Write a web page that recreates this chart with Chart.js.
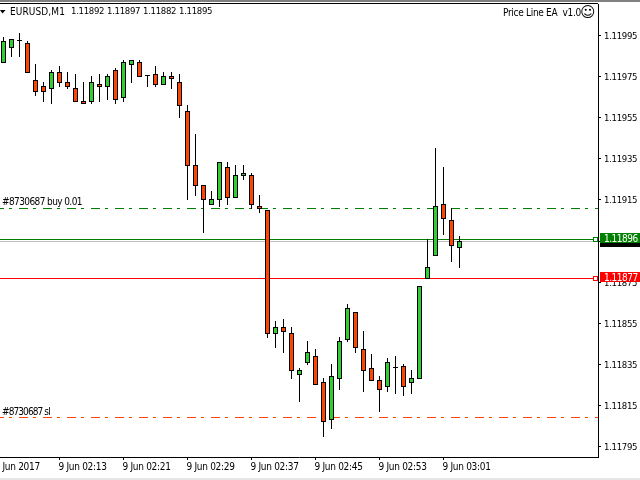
<!DOCTYPE html>
<html>
<head>
<meta charset="utf-8">
<title>EURUSD,M1</title>
<script src="https://cdn.jsdelivr.net/npm/chart.js@4/dist/chart.umd.min.js"></script>
<style>
    html, body { margin: 0; padding: 0; background: #fff; overflow: hidden; }
    canvas { display: block; }
</style>
</head>
<body>
<canvas id="chart" width="640" height="480"></canvas>
<script>
const opens = [1.11982,1.11989,1.11992,1.11991,1.11973,1.11970,1.11969,1.11977,1.11972,1.11969,
    1.11963,1.11963,1.11971,1.11970,1.11978,1.11965,1.11981,1.11982,1.11975,1.11976,
    1.11971,1.11975,1.11972,1.11958,1.11932,1.11922,1.11913,1.11915,1.11931,1.11916,
    1.11927,1.11927,1.11912,1.11910,1.11850,1.11853,1.11850,1.11830,1.11836,1.11839,
    1.11826,1.11808,1.11828,1.11847,1.11860,1.11842,1.11833,1.11827,1.11824,1.11833,
    1.11834,1.11826,1.11828,1.11877,1.11888,1.11913,1.11905,1.11892];
const highs = [1.11994,1.11993,1.11996,1.11992,1.11981,1.11972,1.11978,1.11980,1.11977,1.11976,
    1.11972,1.11975,1.11976,1.11976,1.11979,1.11983,1.11983,1.11983,1.11975,1.11980,
    1.11977,1.11977,1.11976,1.11961,1.11947,1.11922,1.11919,1.11933,1.11933,1.11932,
    1.11932,1.11928,1.11917,1.11910,1.11856,1.11857,1.11853,1.11833,1.11846,1.11842,
    1.11828,1.11835,1.11848,1.11864,1.11860,1.11851,1.11840,1.11829,1.11838,1.11839,
    1.11835,1.11832,1.11873,1.11896,1.11940,1.11931,1.11911,1.11897];
const lows = [1.11982,1.11985,1.11985,1.11977,1.11966,1.11963,1.11962,1.11970,1.11969,1.11963,
    1.11962,1.11962,1.11963,1.11964,1.11962,1.11963,1.11972,1.11975,1.11970,1.11970,
    1.11971,1.11969,1.11955,1.11915,1.11917,1.11899,1.11913,1.11912,1.11913,1.11916,
    1.11925,1.11911,1.11909,1.11848,1.11843,1.11841,1.11828,1.11817,1.11835,1.11825,
    1.11800,1.11804,1.11823,1.11846,1.11841,1.11822,1.11827,1.11812,1.11822,1.11821,
    1.11820,1.11821,1.11828,1.11877,1.11888,1.11898,1.11885,1.11882];
const closes = [1.11992,1.11993,1.11992,1.11977,1.11968,1.11968,1.11977,1.11972,1.11970,1.11963,
    1.11962,1.11972,1.11970,1.11975,1.11964,1.11982,1.11983,1.11975,1.11975,1.11971,
    1.11975,1.11974,1.11961,1.11932,1.11922,1.11915,1.11915,1.11933,1.11916,1.11927,
    1.11928,1.11913,1.11911,1.11850,1.11853,1.11851,1.11832,1.11832,1.11841,1.11825,
    1.11807,1.11829,1.11846,1.11862,1.11843,1.11832,1.11827,1.11823,1.11836,1.11833,
    1.11824,1.11828,1.11873,1.11882,1.11912,1.11906,1.11893,1.11895];

const priceTicks = [1.11995,1.11975,1.11955,1.11935,1.11915,1.11895,1.11875,1.11855,1.11835,1.11815,1.11795];
const timeTickIndex = [-1,7,15,23,31,39,47,55];
const timeTickLabels = ['9 Jun 2017','9 Jun 02:13','9 Jun 02:21','9 Jun 02:29','9 Jun 02:37','9 Jun 02:45','9 Jun 02:53','9 Jun 03:01'];

const askPrice = 1.11896;
const bidPrice = 1.11895;
const redLinePrice = 1.11877;
const buyPrice = 1.11911;
const slPrice = 1.118095;

const FONT = '"DejaVu Sans Condensed", "DejaVu Sans", sans-serif';
const RED = '#ff4500';
const GREEN = '#32cd32';
const xMin = -0.4375, xMax = 74.3125;

function hline(price, color, dashed, order) {
    const ds = {
        type: 'line',
        data: [{x: xMin, y: price}, {x: xMax, y: price}],
        borderColor: color,
        borderWidth: 1,
        pointRadius: 0,
        order: order
    };
    if (dashed) {
        ds.borderDash = [9, 5, 3, 7];
        ds.borderDashOffset = 5;
    }
    return ds;
}

// pixel snapping so the candles stay crisp
const snapPlugin = {
    id: 'snap',
    beforeDraw(chart) {
        chart.ctx.letterSpacing = '-0.3px';
    },
    beforeDatasetsDraw(chart) {
        chart.data.datasets.forEach((ds, i) => {
            chart.getDatasetMeta(i).data.forEach(el => {
                if (ds.type === 'line') {
                    el.y = Math.round(el.y) + 0.5;
                    return;
                }
                const doji = Math.abs(el.y - el.base) <= 1;
                const top = Math.floor(Math.min(el.y, el.base) + 0.05);
                const bottom = doji ? top + 1 : Math.floor(Math.max(el.y, el.base) + 0.05) + 1;
                if (el.y < el.base) {
                    el.y = top;
                    el.base = bottom;
                } else {
                    el.y = bottom;
                    el.base = top;
                }
            });
        });
    }
};

function label(ctx, text, x, y, spacing) {
    ctx.letterSpacing = spacing + 'px';
    ctx.fillText(text, x, y);
}

function priceTag(ctx, top, height, color, text) {
    ctx.fillStyle = color;
    ctx.fillRect(600, top, 40, height);
    ctx.fillStyle = '#fff';
    label(ctx, text, 604, top + 6.5, -0.5);
}

const textPlugin = {
    id: 'mtText',
    afterDraw(chart) {
        const ctx = chart.ctx;
        const y = chart.scales.y;
        ctx.save();
        // window frame
        ctx.fillStyle = '#808080';
        ctx.fillRect(0, 0, 640, 2);
        ctx.fillStyle = '#e6e6e6';
        ctx.fillRect(0, 478, 640, 2);
        ctx.fillStyle = '#000';
        ctx.fillRect(0, 3, 598, 1);

        ctx.font = '10px ' + FONT;
        ctx.textBaseline = 'middle';
        ctx.textAlign = 'left';
        ctx.fillStyle = '#000';
        label(ctx, 'EURUSD,M1', 10, 12, 0.1);
        label(ctx, '#8730687 buy 0.01', 2, 202, -0.6);
        label(ctx, '#8730687 sl', 2, 412, -0.9);
        label(ctx, 'Price Line EA  v1.0', 503, 13, -0.3);
        ctx.font = '9.5px ' + FONT;
        label(ctx, '1.11892', 71, 12, -0.3);
        label(ctx, '1.11897', 107, 12, -0.3);
        label(ctx, '1.11882', 143, 12, -0.3);
        label(ctx, '1.11895', 179, 12, -0.3);
        ctx.font = '15px "DejaVu Sans"';
        label(ctx, '\u263A', 580, 13, 0);

        ctx.beginPath();
        ctx.moveTo(0, 10);
        ctx.lineTo(5.5, 10);
        ctx.lineTo(2.5, 13.5);
        ctx.closePath();
        ctx.fill();

        // right side price tags
        ctx.font = '10px ' + FONT;
        ctx.fillStyle = '#000';
        ctx.fillRect(600, 236, 40, 11);
        priceTag(ctx, 233, 10, '#008000', '1.11896');
        priceTag(ctx, 272, 10, '#ff0000', '1.11877');

        // little squares at the line ends
        ctx.lineWidth = 1;
        ctx.fillStyle = '#fff';
        [[askPrice, '#008000'], [redLinePrice, '#ff0000']].forEach(m => {
            const py = Math.round(y.getPixelForValue(m[0]));
            ctx.strokeStyle = m[1];
            ctx.fillRect(593.5, py - 1.5, 4, 4);
            ctx.strokeRect(593.5, py - 1.5, 4, 4);
        });
        ctx.restore();
    }
};

new Chart(document.getElementById('chart'), {
    data: {
        datasets: [
            {
                type: 'bar',
                data: opens.map((o, i) => ({x: i, y: [o, closes[i]]})),
                backgroundColor: opens.map((o, i) => closes[i] > o ? GREEN : (closes[i] < o ? RED : '#000')),
                borderColor: '#000',
                borderWidth: 1,
                borderSkipped: false,
                inflateAmount: 0,
                barThickness: 5,
                minBarLength: 1,
                grouped: false,
                order: 1
            },
            {
                type: 'bar',
                data: highs.map((h, i) => ({x: i, y: [lows[i], h]})),
                backgroundColor: '#000',
                borderWidth: 0,
                inflateAmount: 0,
                barThickness: 1,
                grouped: false,
                order: 2
            },
            hline(buyPrice, '#008000', true, 3),
            hline(slPrice, RED, true, 3),
            hline(bidPrice, '#c0c0c0', false, 4),
            hline(askPrice, '#008000', false, 3),
            hline(redLinePrice, '#ff0000', false, 3)
        ]
    },
    options: {
        responsive: false,
        animation: false,
        events: [],
        layout: {padding: {top: 4, left: 0, right: 0, bottom: 0}},
        plugins: {legend: {display: false}, tooltip: {enabled: false}, title: {display: false}},
        scales: {
            x: {
                type: 'linear',
                offset: false,
                min: xMin,
                max: xMax,
                afterBuildTicks(axis) { axis.ticks = timeTickIndex.map(v => ({value: v})); },
                afterFit(axis) { axis.height = 23; axis.paddingLeft = 0; axis.paddingRight = 0; },
                grid: {display: true, offset: false, drawOnChartArea: false, drawTicks: true, tickLength: 3, color: '#000'},
                border: {display: true, color: '#000'},
                ticks: {
                    autoSkip: false,
                    maxRotation: 0,
                    align: 'start',
                    padding: 1,
                    labelOffset: -1,
                    color: '#000',
                    font: {family: FONT, size: 10},
                    callback: (v) => timeTickLabels[timeTickIndex.indexOf(v)]
                }
            },
            y: {
                type: 'linear',
                position: 'right',
                min: 1.1178990,
                max: 1.1201033,
                afterBuildTicks(axis) { axis.ticks = priceTicks.map(v => ({value: v})); },
                afterFit(axis) { axis.width = 42; axis.paddingTop = 0; axis.paddingBottom = 0; },
                grid: {display: true, drawOnChartArea: false, drawTicks: true, tickLength: 3, color: '#000'},
                border: {display: true, color: '#000'},
                ticks: {
                    autoSkip: false,
                    padding: 3,
                    labelOffset: 1,
                    color: '#000',
                    font: {family: FONT, size: 9.5},
                    callback: (v) => v.toFixed(5)
                }
            }
        }
    },
    plugins: [snapPlugin, textPlugin]
});
</script>
</body>
</html>
